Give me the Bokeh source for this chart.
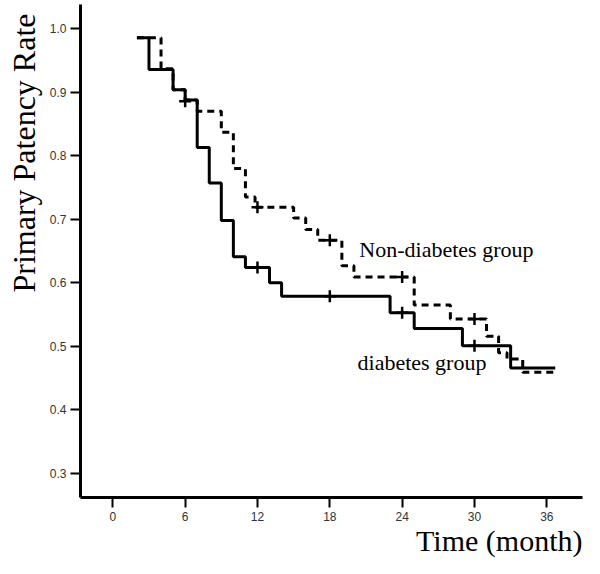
from bokeh.plotting import figure
from bokeh.models import FixedTicker, PrintfTickFormatter, Range1d, Label, Title
from bokeh.embed import file_html
from bokeh.resources import INLINE

# ---- data ----
end_time = 36.7

diabetes_t = [2.0, 3.0, 5.0, 6.0, 7.0, 8.0, 9.0, 10.0, 11.0, 13.0, 14.0, 23.0, 25.0, 29.0, 33.0]
diabetes_s = [0.986, 0.936, 0.904, 0.888, 0.813, 0.757, 0.698, 0.641, 0.624, 0.600, 0.579, 0.553, 0.528, 0.501, 0.466]
diabetes_cens_t = [6.0, 12.0, 18.0, 24.0, 30.0]
diabetes_cens_s = [0.886, 0.624, 0.579, 0.553, 0.501]

nondiab_t = [2.0, 4.0, 5.0, 6.0, 7.0, 9.0, 10.0, 11.0, 11.8, 15.0, 16.0, 17.0, 19.0, 20.0, 25.0, 28.0, 31.0, 32.0, 32.7, 34.0]
nondiab_s = [0.986, 0.937, 0.904, 0.888, 0.870, 0.837, 0.780, 0.735, 0.719, 0.702, 0.684, 0.667, 0.627, 0.609, 0.565, 0.543, 0.516, 0.490, 0.480, 0.459]
nondiab_cens_t = [12.0, 18.0, 24.0, 30.0]
nondiab_cens_s = [0.719, 0.667, 0.609, 0.543]

x_ticks = [0, 6, 12, 18, 24, 30, 36]
y_ticks = [0.3, 0.4, 0.5, 0.6, 0.7, 0.8, 0.9, 1.0]

x_title = "Time (month)"
y_title = "Primary Patency Rate"
label_nondiab = "Non-diabetes group"
label_diab = "diabetes group"

# ---- figure ----
p = figure(width=584, height=558, output_backend="svg", toolbar_location=None,
           x_range=Range1d(-2.68, 38.96), y_range=Range1d(0.2619, 1.0383),
           min_border_left=80, min_border_right=2, min_border_top=4, min_border_bottom=61)
p.outline_line_color = None
p.xgrid.visible = False
p.ygrid.visible = False
p.background_fill_color = "white"
p.border_fill_color = "white"

for ax in (p.xaxis[0], p.yaxis[0]):
    ax.axis_line_width = 3
    ax.axis_line_color = "black"
    ax.major_tick_line_width = 2
    ax.major_tick_line_color = "black"
    ax.major_tick_out = 10
    ax.major_tick_in = 0
    ax.minor_tick_line_color = None
    ax.major_label_text_font = "Liberation Sans"
    ax.major_label_text_font_size = "12px"
    ax.major_label_text_color = "#333333"

p.xaxis[0].ticker = FixedTicker(ticks=x_ticks)
p.yaxis[0].ticker = FixedTicker(ticks=y_ticks)
p.xaxis[0].formatter = PrintfTickFormatter(format="%d")
p.yaxis[0].formatter = PrintfTickFormatter(format="%.1f")
p.xaxis[0].major_label_standoff = 4
p.yaxis[0].major_label_standoff = 4

# axis titles as side-panel titles
p.add_layout(Title(text=x_title, align="right", vertical_align="top", offset=0, standoff=0,
                   text_font="Liberation Serif", text_font_size="30px",
                   text_font_style="normal", text_color="black"), "below")
p.add_layout(Title(text=y_title, align="right", vertical_align="top", offset=9, standoff=6,
                   text_font="Liberation Serif", text_font_size="32px",
                   text_font_style="normal", text_color="black"), "left")

# step curves
nd_x = nondiab_t + [end_time]
nd_y = nondiab_s + [nondiab_s[-1]]
d_x = diabetes_t + [end_time]
d_y = diabetes_s + [diabetes_s[-1]]

p.step(nd_x, nd_y, mode="after", line_color="black", line_width=3, line_dash="7 5")
p.step(d_x, d_y, mode="after", line_color="black", line_width=3)

p.scatter(nondiab_cens_t, nondiab_cens_s, marker="cross", size=12, line_width=2.5, line_color="black")
p.scatter(diabetes_cens_t, diabetes_cens_s, marker="cross", size=12, line_width=2.5, line_color="black")

# in-plot annotations
p.add_layout(Label(x=20.45, y=0.653, text=label_nondiab, text_font="Liberation Serif",
                   text_font_size="22px", text_color="black", text_align="left",
                   text_baseline="alphabetic"))
p.add_layout(Label(x=20.3, y=0.474, text=label_diab, text_font="Liberation Serif",
                   text_font_size="22px", text_color="black", text_align="left",
                   text_baseline="alphabetic"))

open("out.html", "w").write(file_html(p, INLINE))
